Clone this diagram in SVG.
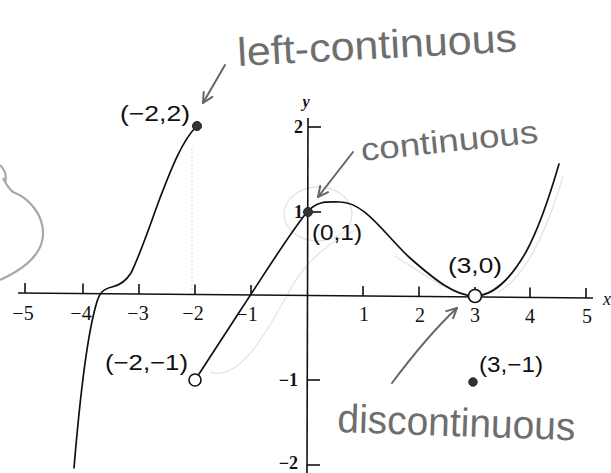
<svg xmlns="http://www.w3.org/2000/svg" width="611" height="473" viewBox="0 0 611 473">
<defs>
<style>
.axis{stroke:#111;stroke-width:1.6;fill:none}
.tick{stroke:#111;stroke-width:1.6}
.curve{stroke:#111;stroke-width:1.7;fill:none;stroke-linecap:round}
.tl{font-family:"Liberation Serif","Times New Roman",serif;font-size:20px;fill:#111;text-anchor:middle}
.yl{font-family:"Liberation Serif","Times New Roman",serif;font-size:18px;font-weight:bold;fill:#111;text-anchor:end}
.pl{font-family:"Liberation Sans",Arial,sans-serif;font-size:22px;fill:#111}
.hand{font-family:"Liberation Sans",Arial,sans-serif;fill:#6e6e6e}
.arrow{stroke:#666;stroke-width:2;fill:none;stroke-linecap:round;marker-end:url(#vhead)}
.dot{fill:#333;stroke:#222;stroke-width:1}
.hole{fill:#fff;stroke:#111;stroke-width:1.6}
.faint{stroke:#e4e4e4;stroke-width:1.3;fill:none}
</style>
<marker id="vhead" viewBox="0 0 12 12" refX="11" refY="6" markerWidth="12" markerHeight="12" markerUnits="userSpaceOnUse" orient="auto">
<path d="M1,1 L11,6 L1,11" fill="none" stroke="#666" stroke-width="2" stroke-linecap="round" stroke-linejoin="round"/>
</marker>
</defs>
<rect width="611" height="473" fill="#fff"/>

<!-- faint pencil traces -->
<g id="traces">
<path d="M0,165 C5,170 7,176 5,183 M3,178 C6,184 9,189 13,192 C29,198 44,215 43,235 C42,255 22,270 0,280" stroke="#a8a8a8" stroke-width="2.2" fill="none"/>
<line x1="192" y1="148" x2="192" y2="290" stroke="#e0e0e0" stroke-width="1.2" stroke-dasharray="2 2"/>
<path class="faint" d="M563,176 C548,228 528,274 498,293" stroke="#d0d0d0"/>
<path class="faint" d="M395,256 C420,272 445,290 468,296" stroke="#d8d8d8"/>
<ellipse class="faint" cx="318" cy="214" rx="34" ry="27"/>
<path class="faint" d="M210,372 C240,382 268,330 290,290 C305,262 330,240 360,228"/>
</g>

<!-- axes -->
<g id="axes">
<line class="axis" x1="18" y1="293" x2="593" y2="298"/>
<line class="axis" x1="308" y1="118" x2="307" y2="473"/>
<g class="tick">
<line x1="25" y1="283" x2="25" y2="293.1"/>
<line x1="83" y1="283.6" x2="83" y2="293.6"/>
<line x1="139" y1="284.1" x2="139" y2="294.1"/>
<line x1="195" y1="284.5" x2="195" y2="294.5"/>
<line x1="251" y1="285" x2="251" y2="295"/>
<line x1="363" y1="286" x2="363" y2="296"/>
<line x1="419" y1="286.5" x2="419" y2="296.5"/>
<line x1="475" y1="287" x2="475" y2="297"/>
<line x1="530" y1="287.5" x2="530" y2="297.5"/>
<line x1="586" y1="287.9" x2="586" y2="297.9"/>
<line x1="308" y1="127" x2="321" y2="127"/>
<line x1="308" y1="212" x2="321" y2="212"/>
<line x1="307" y1="380" x2="320" y2="380"/>
<line x1="307" y1="465" x2="320" y2="465"/>
</g>
<text class="tl" x="23" y="320">−5</text>
<text class="tl" x="81" y="320">−4</text>
<text class="tl" x="138" y="320">−3</text>
<text class="tl" x="193" y="320">−2</text>
<text class="tl" x="247" y="321">−1</text>
<text class="tl" x="364" y="321">1</text>
<text class="tl" x="420" y="322">2</text>
<text class="tl" x="475" y="322">3</text>
<text class="tl" x="530" y="323">4</text>
<text class="tl" x="587" y="323">5</text>
<text x="603" y="305" font-family="Liberation Serif,serif" font-style="italic" font-size="18" fill="#111">x</text>
<text x="306" y="107" font-family="Liberation Serif,serif" font-style="italic" font-weight="bold" font-size="16" fill="#111" text-anchor="middle">y</text>
<text class="yl" x="303" y="133">2</text>
<text class="yl" x="303" y="218">1</text>
<text class="yl" x="298" y="386">−1</text>
<text class="yl" x="298" y="469" font-size="17">−2</text>
</g>

<!-- function graph -->
<g id="graph">
<path class="curve" d="M74,468 C78,420 86,340 96,305 C99,293 103,289 112,287 C121,285 126,281 131,273 C140,255 150,225 160,198 C170,172 182,140 197,126"/>
<path class="curve" d="M199,374 L240,311 C262,278 285,240 307,212 C318,200 328,202 340,202 C365,202 385,235 410,258 C435,280 455,296 475,296 C492,296 510,280 526,252 C538,230 550,195 559,164"/>
</g>

<!-- points -->
<g id="pt-m2-2">
<circle class="dot" cx="197" cy="126" r="4.5"/>
<text class="pl" x="120" y="121" textLength="70" lengthAdjust="spacingAndGlyphs">(−2,2)</text>
</g>
<g id="pt-0-1">
<circle class="dot" cx="308" cy="212" r="4.5"/>
<text class="pl" x="312" y="240" textLength="50" lengthAdjust="spacingAndGlyphs">(0,1)</text>
</g>
<g id="pt-3-0">
<circle class="hole" cx="475" cy="296" r="6.5"/>
<text class="pl" x="448" y="273" textLength="54" lengthAdjust="spacingAndGlyphs">(3,0)</text>
</g>
<g id="pt-m2-m1">
<circle class="hole" cx="195" cy="380" r="6"/>
<text class="pl" x="105" y="370" textLength="83" lengthAdjust="spacingAndGlyphs">(−2,−1)</text>
</g>
<g id="pt-3-m1">
<circle class="dot" cx="473" cy="382" r="4.2"/>
<text class="pl" x="479" y="372" textLength="64" lengthAdjust="spacingAndGlyphs">(3,−1)</text>
</g>

<!-- handwritten annotations -->
<g id="note-left">
<text class="hand" x="238" y="66" font-size="40" textLength="280" lengthAdjust="spacingAndGlyphs" transform="rotate(-3 238 66)">left-continuous</text>
</g>
<g id="note-cont">
<text class="hand" x="362" y="161" font-size="32" textLength="178" lengthAdjust="spacingAndGlyphs" transform="rotate(-6 362 161)">continuous</text>
</g>
<g id="note-disc">
<text class="hand" x="337" y="432" font-size="40" textLength="238" lengthAdjust="spacingAndGlyphs" transform="rotate(2 337 432)">discontinuous</text>
</g>

<!-- connectors -->
<g id="connectors">
<path class="arrow" d="M225,65 L203,103"/>
<path class="arrow" d="M353,152 L318,197"/>
<path class="arrow" d="M392,383 Q428,335 457,308"/>
</g>
</svg>
